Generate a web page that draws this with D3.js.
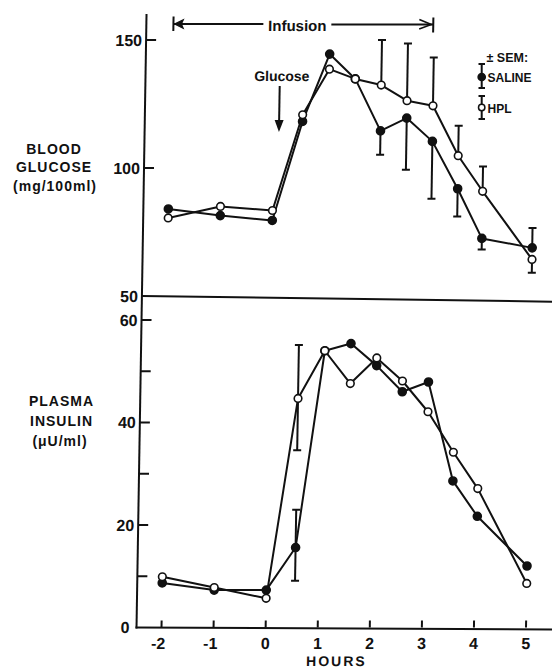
<!DOCTYPE html>
<html><head><meta charset="utf-8">
<script src="https://cdn.jsdelivr.net/npm/d3@7"></script>
<style>
body{margin:0;background:#fff}
text{font-family:"Liberation Sans",Arial,sans-serif;font-weight:bold;fill:#111}
</style>
</head><body>
<svg id="c" width="552" height="668"></svg>
<script>
// ---- data ----
const hours = [-2, -1, 0, 0.55, 1.05, 1.55, 2.05, 2.55, 3.05, 3.55, 4.03, 5.0];
const glucoseSaline = [84.0, 81.4, 79.5, 118.2, 144.5, 134.8, 114.5, 119.5, 110.4, 91.9, 72.5, 68.8];
const glucoseHPL    = [80.5, 85.0, 83.4, 120.8, 138.6, 134.8, 132.4, 126.3, 124.3, 104.8, 90.9, 64.3];
const insulinSaline = [8.7, 7.3, 7.3, 15.6, 54.0, 55.4, 51.1, 46.0, 47.9, 28.6, 21.7, 12.0];
const insulinHPL    = [9.9, 7.8, 5.7, 44.7, 54.0, 47.6, 52.6, 48.1, 42.1, 34.2, 27.1, 8.6];
// SEM bars: [below, above] per point (null = no bar drawn)
const glucoseSalineSem = [null, null, null, null, null, null, [9.3, 0], [20.2, 0], [22.4, 0], [10.8, 0], [4.3, 0], [0, 7.8]];
const glucoseHPLSem    = [null, null, null, null, null, null, [0, 17.6], [0, 22.3], [0, 18.9], [0, 11.7], [0, 9.7], [5.2, 0]];
const insulinSalineSem = [null, null, null, [6.5, 7.4], null, null, null, null, null, null, null, null];
const insulinHPLSem    = [null, null, null, [10.1, 10.4], null, null, null, null, null, null, null, null];
const hourTicks = [-2, -1, 0, 1, 2, 3, 4, 5];
const glucoseTicks = [150, 100];
const glucoseTickLabels = ["150", "100", "50"];
const insulinTicks = [60, 50, 40, 30, 20, 10];
const insulinTickLabels = ["60", "40", "20", "0"];
const infusionStart = -1.96, infusionEnd = 3.03;
const glucoseAt = 0.1;

// ---- layout ----
const svg = d3.select("#c");
const axisX = 136.5, baseY = 628;
const x  = d3.scaleLinear().domain([-2, 5]).range([161.5, 526]);
const yG = d3.scaleLinear().domain([50, 150]).range([296, 40]);
const yI = d3.scaleLinear().domain([0, 60]).range([627.5, 320]);
const ink = "#111";

// slight skew of the original print (left axis leans right at top)
const g = svg.append("g")
  .attr("transform", `translate(0,${baseY}) skewX(-0.935) translate(0,${-baseY})`);

// axes
g.append("line").attr("x1", axisX).attr("x2", axisX).attr("y1", 14).attr("y2", 628.5)
  .attr("stroke", ink).attr("stroke-width", 2);
g.append("line").attr("x1", axisX).attr("x2", 570).attr("y1", yG(50)).attr("y2", yG(50) + 6)
  .attr("stroke", ink).attr("stroke-width", 2);
g.append("line").attr("x1", axisX - 1).attr("x2", 570).attr("y1", yI(0)).attr("y2", yI(0) + 2)
  .attr("stroke", ink).attr("stroke-width", 2);

// y ticks
g.selectAll(".gt").data(glucoseTicks).join("line")
  .attr("x1", axisX).attr("x2", axisX + 10).attr("y1", d => yG(d)).attr("y2", d => yG(d))
  .attr("stroke", ink).attr("stroke-width", 2);
g.selectAll(".it").data(insulinTicks).join("line")
  .attr("x1", axisX).attr("x2", axisX + 10).attr("y1", d => yI(d)).attr("y2", d => yI(d))
  .attr("stroke", ink).attr("stroke-width", 2);
[150, 100, 50].forEach((v, i) => {
  g.append("text").attr("x", axisX - 4).attr("y", yG(v)).attr("dy", "0.36em")
    .attr("text-anchor", "end").attr("font-size", 16).text(glucoseTickLabels[i]);
});
[60, 40, 20, 0].forEach((v, i) => {
  g.append("text").attr("x", axisX - 4 - (v === 0 ? 3 : 0)).attr("y", yI(v)).attr("dy", "0.36em")
    .attr("text-anchor", "end").attr("font-size", 16).text(insulinTickLabels[i]);
});

// x ticks
g.selectAll(".xt").data(hourTicks).join("line")
  .attr("x1", d => x(d)).attr("x2", d => x(d)).attr("y1", yI(0)).attr("y2", yI(0) - 7)
  .attr("stroke", ink).attr("stroke-width", 2);
g.selectAll(".xl").data(hourTicks).join("text")
  .attr("x", d => x(d) - (d < 0 ? 3 : 0)).attr("y", 649.5).attr("text-anchor", "middle")
  .attr("font-size", 16).text(d => d < 0 ? "-" + Math.abs(d) : d);
g.append("text").attr("x", 337).attr("y", 666.5).attr("text-anchor", "middle")
  .attr("font-size", 14).attr("letter-spacing", 2).text("HOURS");

// series drawing
function drawSeries(vals, sem, yS) {
  const pts = hours.map((h, i) => [x(h), yS(vals[i])]);
  g.append("path").attr("d", d3.line()(pts)).attr("fill", "none")
    .attr("stroke", ink).attr("stroke-width", 2).attr("stroke-linejoin", "round");
  hours.forEach((h, i) => {
    const s = sem[i];
    if (!s) return;
    const lo = yS(vals[i] - s[0]), hi = yS(vals[i] + s[1]);
    g.append("line").attr("x1", x(h)).attr("x2", x(h)).attr("y1", lo).attr("y2", hi)
      .attr("stroke", ink).attr("stroke-width", 2);
    [s[0] > 0 ? lo : null, s[1] > 0 ? hi : null].forEach(yy => {
      if (yy === null) return;
      g.append("line").attr("x1", x(h) - 4).attr("x2", x(h) + 4).attr("y1", yy).attr("y2", yy)
        .attr("stroke", ink).attr("stroke-width", 2);
    });
  });
  return pts;
}
function drawMarkers(pts, filled) {
  g.selectAll(null).data(pts).join("circle")
    .attr("cx", d => d[0]).attr("cy", d => d[1]).attr("r", filled ? 4 : 3.8)
    .attr("fill", filled ? ink : "#fff").attr("stroke", ink).attr("stroke-width", 1.6);
}
const p1 = drawSeries(glucoseHPL, glucoseHPLSem, yG);
const p2 = drawSeries(glucoseSaline, glucoseSalineSem, yG);
const p3 = drawSeries(insulinHPL, insulinHPLSem, yI);
const p4 = drawSeries(insulinSaline, insulinSalineSem, yI);
drawMarkers(p2, true); drawMarkers(p1, false);
drawMarkers(p4, true); drawMarkers(p3, false);

// infusion annotation
const iy = 24, xs = x(infusionStart), xe = x(infusionEnd), tx = 287.5;
g.append("line").attr("x1", xs).attr("x2", xs).attr("y1", 16.5).attr("y2", 31).attr("stroke", ink).attr("stroke-width", 2);
g.append("line").attr("x1", xe).attr("x2", xe).attr("y1", 17.5).attr("y2", 32.5).attr("stroke", ink).attr("stroke-width", 2);
g.append("line").attr("x1", xs).attr("x2", tx - 34).attr("y1", iy).attr("y2", iy).attr("stroke", ink).attr("stroke-width", 2);
g.append("line").attr("x1", tx + 34).attr("x2", xe).attr("y1", iy + 0.5).attr("y2", iy + 0.5).attr("stroke", ink).attr("stroke-width", 2);
g.append("path").attr("d", `M${xs + 1},${iy} L${xs + 10},${iy - 4.5} L${xs + 8},${iy} L${xs + 10},${iy + 4.5} Z`).attr("fill", ink).attr("stroke", ink).attr("stroke-width", 1);
g.append("path").attr("d", `M${xe - 14},${iy - 4.5} L${xe - 2},${iy + 0.5} L${xe - 14},${iy + 5}`).attr("fill", "none").attr("stroke", ink).attr("stroke-width", 1.6);
g.append("text").attr("x", tx).attr("y", 31.5).attr("text-anchor", "middle").attr("font-size", 15).text("Infusion");

// glucose arrow
const gx = x(glucoseAt);
g.append("text").attr("x", gx + 2).attr("y", 81.5).attr("text-anchor", "middle").attr("font-size", 14).text("Glucose");
g.append("line").attr("x1", gx).attr("x2", gx).attr("y1", 86).attr("y2", 124).attr("stroke", ink).attr("stroke-width", 2);
g.append("path").attr("d", `M${gx - 4.5},${120} L${gx + 4.5},${120} L${gx},${132} Z`).attr("fill", ink);

// legend (absolute positions)
const lg = svg.append("g");
lg.append("text").attr("x", 486.5).attr("y", 61.5).attr("font-size", 12.5).text("± SEM:");
function legendItem(y0, y1, cy, filled, label, ly) {
  lg.append("line").attr("x1", 481.7).attr("x2", 481.7).attr("y1", y0).attr("y2", y1).attr("stroke", ink).attr("stroke-width", 2);
  [y0, y1].forEach(yy => lg.append("line").attr("x1", 478.5).attr("x2", 485).attr("y1", yy).attr("y2", yy).attr("stroke", ink).attr("stroke-width", 2));
  lg.append("circle").attr("cx", 481.7).attr("cy", cy).attr("r", filled ? 3.6 : 3.2)
    .attr("fill", filled ? ink : "#fff").attr("stroke", ink).attr("stroke-width", 1.5);
  lg.append("text").attr("x", 487.5).attr("y", ly).attr("font-size", 12).text(label);
}
legendItem(64, 88, 77, true, "SALINE", 82);
legendItem(96, 119, 107.5, false, "HPL", 112.5);

// y-axis titles
const tg = svg.append("g").attr("text-anchor", "middle").attr("font-size", 14).attr("letter-spacing", 1);
tg.append("text").attr("x", 54).attr("y", 153.5).text("BLOOD");
tg.append("text").attr("x", 54).attr("y", 172).text("GLUCOSE");
tg.append("text").attr("x", 55).attr("y", 190.5).text("(mg/100ml)");
tg.append("text").attr("x", 61.5).attr("y", 406).text("PLASMA");
tg.append("text").attr("x", 61.5).attr("y", 426).text("INSULIN");
tg.append("text").attr("x", 60).attr("y", 446).text("(μU/ml)");
</script>
</body></html>
